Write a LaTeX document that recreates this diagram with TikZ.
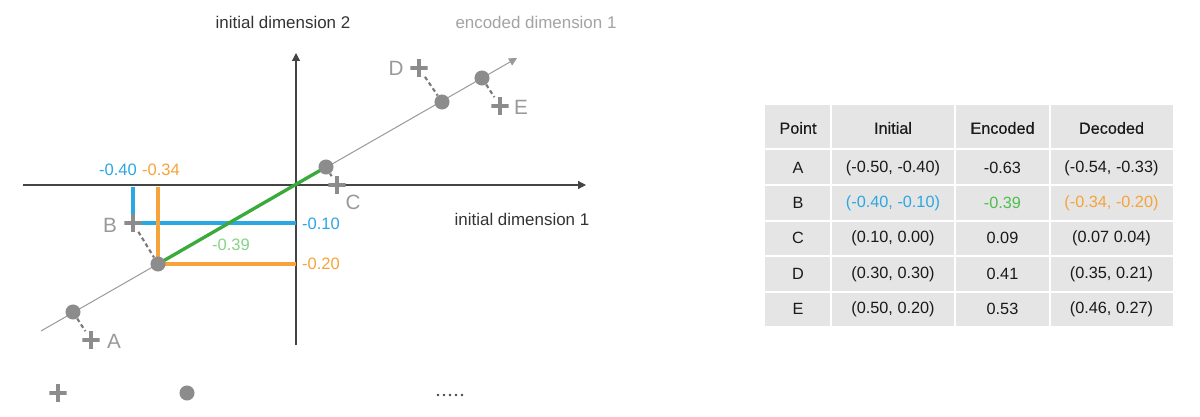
\documentclass[tikz,border=0pt]{standalone}
\usepackage{fontspec}
\setmainfont{Liberation Sans}
\newfontfamily\medfont{Liberation Sans}[FakeBold=0.4]
\usetikzlibrary{arrows.meta}
\definecolor{axisc}{HTML}{444444}
\definecolor{encc}{HTML}{999999}
\definecolor{ptgray}{HTML}{8C8C8C}
\definecolor{dashc}{HTML}{7A7A7A}
\definecolor{lblgray}{HTML}{999999}
\definecolor{enclbl}{HTML}{A3A3A3}
\definecolor{axtext}{HTML}{333333}
\definecolor{bluec}{HTML}{2BA7E2}
\definecolor{orangec}{HTML}{F5A33A}
\definecolor{greenc}{HTML}{3AAB3A}
\definecolor{greenlbl}{HTML}{86D386}
\definecolor{greentab}{HTML}{4DBE4D}
\definecolor{tabbg}{HTML}{E5E5E5}
\definecolor{tabtext}{HTML}{1A1A1A}
\pgfdeclarelayer{bg}
\pgfsetlayers{bg,main}
\begin{document}
\begin{tikzpicture}[x=0.75pt,y=-0.75pt,
  axisline/.style={draw=axisc, line width=0.9pt, -{Triangle[length=6pt,width=6pt]}},
  encline/.style={draw=encc, line width=0.75pt, -{Triangle[length=6pt,width=6pt]}},
  dotnode/.style={circle, fill=ptgray, minimum size=11.3pt, inner sep=0pt},
  plusnode/.style={rectangle, minimum size=12.8pt, inner sep=0pt,
    path picture={\draw[ptgray, line width=3.3pt]
      (path picture bounding box.west) -- (path picture bounding box.east)
      (path picture bounding box.north) -- (path picture bounding box.south);}},
  dashline/.style={draw=dashc, line width=1.6pt, dash pattern=on 3pt off 2.2pt},
  ptlabel/.style={text=lblgray, font=\fontsize{15.5}{18}\selectfont, inner sep=0pt},
  axlabel/.style={text=axtext, font=\fontsize{12.7}{15}\selectfont, inner sep=0pt},
  vallabel/.style={font=\fontsize{12.4}{15}\selectfont, inner sep=0pt},
  blueline/.style={draw=bluec, line width=2.5pt},
  orangeline/.style={draw=orangec, line width=2.5pt},
  greenline/.style={draw=greenc, line width=2.5pt},
  cell/.style={font=\fontsize{12.2}{15}\selectfont, text=tabtext, inner sep=0pt},
  headcell/.style={cell, font=\fontsize{12.2}{15}\medfont},
]
\path[use as bounding box] (0,0) rectangle (1200,417);

% axes coordinates
\coordinate (xs) at (23,185); \coordinate (xe) at (586,185);
\coordinate (ys) at (296,345); \coordinate (ye) at (296,53);
\coordinate (es) at (41,331); \coordinate (ee) at (517,58);
\coordinate (bTop) at (133,187); \coordinate (bEnd) at (296,223);
\coordinate (oTop) at (158,187); \coordinate (oEnd) at (296,264);

% points
\node[dotnode] (dA) at (73,312) {};
\node[dotnode] (dB) at (158,264) {};
\node[dotnode] (dC) at (326,167) {};
\node[dotnode] (dD) at (442,102) {};
\node[dotnode] (dE) at (482,78) {};
\node[plusnode] (pA) at (91,340) {};
\node[plusnode] (pB) at (133,223) {};
\node[plusnode] (pC) at (337,185) {};
\node[plusnode] (pD) at (419,68) {};
\node[plusnode] (pE) at (500,106) {};

\node[ptlabel] (lA) at (114,341) {A};
\node[ptlabel] (lB) at (110,225) {B};
\node[ptlabel] (lC) at (353,202) {C};
\node[ptlabel] (lD) at (396,68) {D};
\node[ptlabel] (lE) at (521,107) {E};

% axis labels
\node[axlabel] (ax2) at (283,22) {initial dimension 2};
\node[axlabel, text=enclbl] (enc1) at (536,22) {encoded dimension 1};
\node[axlabel] (ax1) at (522,219) {initial dimension 1};

% value labels
\node[vallabel, text=bluec] (v040) at (118,170) {-0.40};
\node[vallabel, text=orangec] (v034) at (161,170) {-0.34};
\node[vallabel, text=bluec] (v010) at (321,224) {-0.10};
\node[vallabel, text=orangec] (v020) at (321,264) {-0.20};
\node[vallabel, text=greenlbl] (v039) at (231,245) {-0.39};

\begin{pgfonlayer}{bg}
  \draw[axisline] (xs) -- (xe);
  \draw[axisline] (ys) -- (ye);
  \draw[encline] (es) -- (ee);
  \draw[blueline] (bTop) -- (pB.center) -- (bEnd);
  \draw[orangeline] (oTop) -- (dB.center) -- (oEnd);
  \draw[greenline] (dB.center) -- (dC.center);
  \draw[dashline] (pB) -- (dB);
  \draw[dashline] (dA) -- (pA);
  \draw[dashline] (dC) -- (pC);
  \draw[dashline] (pD) -- (dD);
  \draw[dashline] (dE) -- (pE);
\end{pgfonlayer}

% legend
\node[plusnode] (legP) at (58,393) {};
\node[dotnode] (legD) at (187,393) {};
\foreach \i in {0,...,4} \fill[axisc] (438+6*\i,395) circle[radius=1pt];

% table
\fill[tabbg] (765,105) rectangle (1173,326);
\draw[white, line width=1.5pt]
  (831,105) -- (831,326) (955,105) -- (955,326) (1050,105) -- (1050,326)
  (765,149) -- (1173,149) (765,185) -- (1173,185) (765,221) -- (1173,221)
  (765,256) -- (1173,256) (765,292) -- (1173,292);

\node[headcell] (h1) at (798,128) {Point};
\node[headcell] (h2) at (893,128) {Initial};
\node[headcell] (h3) at (1002.5,128) {Encoded};
\node[headcell] (h4) at (1111.5,128) {Decoded};

\node[cell] (a1) at (798,168) {A};
\node[cell] (a2) at (893,168) {(-0.50, -0.40)};
\node[cell] (a3) at (1002.5,168) {-0.63};
\node[cell] (a4) at (1111.5,168) {(-0.54, -0.33)};

\node[cell] (b1) at (798,203) {B};
\node[cell, text=bluec] (b2) at (893,203) {(-0.40, -0.10)};
\node[cell, text=greentab] (b3) at (1002.5,203) {-0.39};
\node[cell, text=orangec] (b4) at (1111.5,203) {(-0.34, -0.20)};

\node[cell] (c1) at (798,238) {C};
\node[cell] (c2) at (893,238) {(0.10, 0.00)};
\node[cell] (c3) at (1002.5,238) {0.09};
\node[cell] (c4) at (1111.5,238) {(0.07 0.04)};

\node[cell] (e1r) at (798,274) {D};
\node[cell] (d2) at (893,274) {(0.30, 0.30)};
\node[cell] (d3) at (1002.5,274) {0.41};
\node[cell] (d4) at (1111.5,274) {(0.35, 0.21)};

\node[cell] (f1) at (798,309) {E};
\node[cell] (f2) at (893,309) {(0.50, 0.20)};
\node[cell] (f3) at (1002.5,309) {0.53};
\node[cell] (f4) at (1111.5,309) {(0.46, 0.27)};
\end{tikzpicture}
\end{document}
